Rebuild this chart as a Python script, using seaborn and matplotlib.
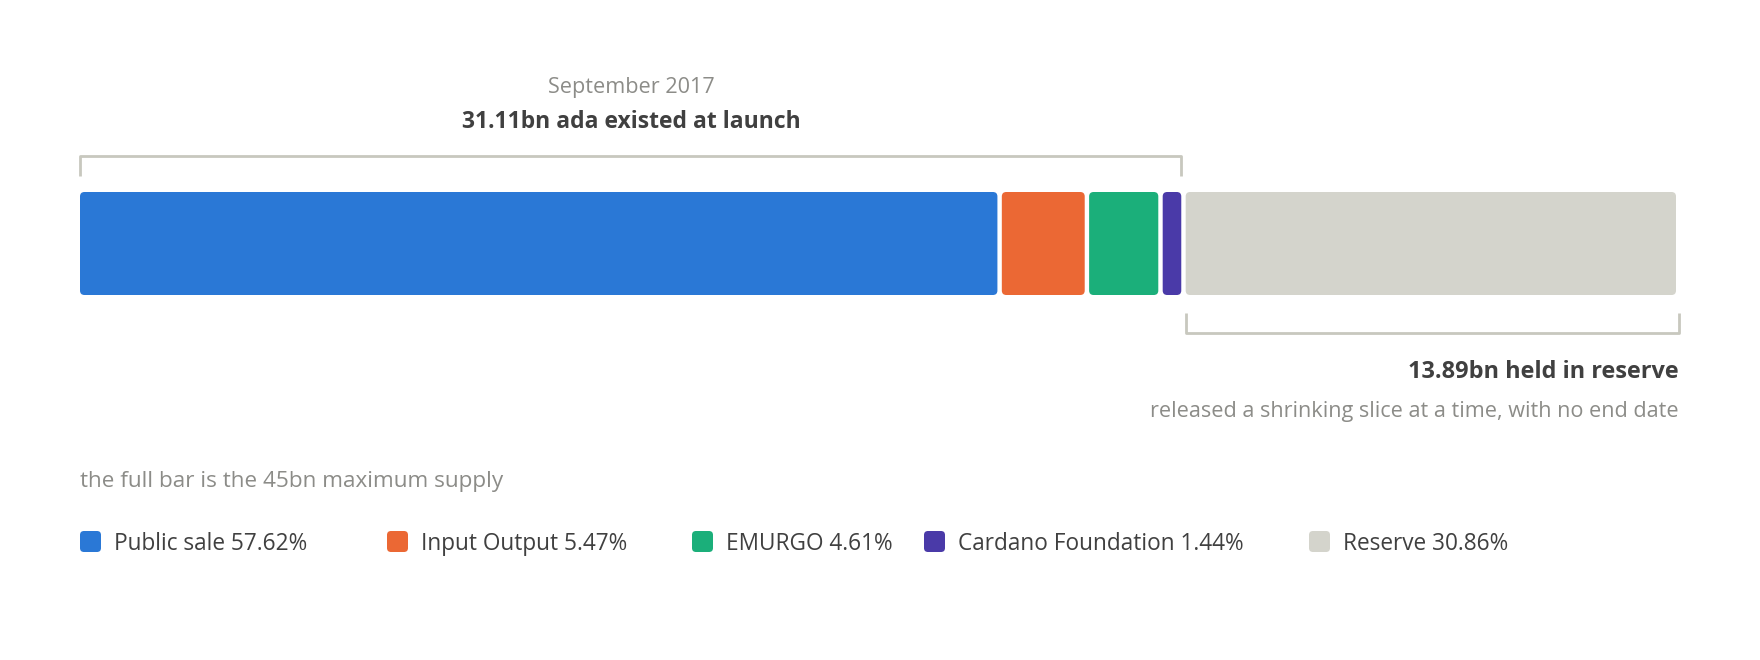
import matplotlib
matplotlib.use("Agg")
import matplotlib.pyplot as plt
from matplotlib.patches import FancyBboxPatch
import seaborn as sns

# ada supply split at launch, share of the 45bn maximum supply (%)
segments = ["Public sale", "Input Output", "EMURGO", "Cardano Foundation", "Reserve"]
shares = [57.62, 5.47, 4.61, 1.44, 30.86]
colors = ["#2a78d6", "#eb6834", "#1baf7a", "#4a3aa8", "#d4d4cc"]
launch_label = "September 2017"
launch_total = "31.11bn ada existed at launch"
reserve_total = "13.89bn held in reserve"
reserve_note = "released a shrinking slice at a time, with no end date"
footnote = "the full bar is the 45bn maximum supply"

sns.set_theme(style="white")
plt.rcParams["font.family"] = ["Open Sans", "DejaVu Sans"]

dark = "#404040"
grey = "#8c8c88"
line_col = "#c8c8be"

W, H = 1760, 660
fig = plt.figure(figsize=(W / 100, H / 100), dpi=100)
ax = fig.add_axes([0, 0, 1, 1])
ax.axis("off")

# x in percent of max supply, y in pixels (top = 0)
x0_px, x1_px = 80, 1676
k = (x1_px - x0_px) / 100.0
ax.set_xlim(-x0_px / k, (W - x0_px) / k)
ax.set_ylim(H, 0)


def px(x):
    return (x - x0_px) / k


bar_top, bar_h = 192, 103
gap = 2.2 / k
rad = 4.5
starts = [sum(shares[:i]) for i in range(len(shares))]
for i, (s, w, c) in enumerate(zip(starts, shares, colors)):
    left = s + (gap if i > 0 else 0)
    right = s + w - (gap if i < len(shares) - 1 else 0)
    ax.add_patch(FancyBboxPatch((left, bar_top), right - left, bar_h,
                                boxstyle=f"round,pad=0,rounding_size={rad / k}",
                                mutation_aspect=k, fc=c, ec="none"))

launch_end = sum(shares[:4])

# bracket over the launch supply
ax.plot([0, 0, launch_end - gap, launch_end - gap], [176, 156, 156, 176],
        color=line_col, lw=2, solid_capstyle="butt")
ax.text(launch_end / 2, 87, launch_label, ha="center", va="center",
        fontsize=15.6, color=grey)
ax.text(launch_end / 2, 122, launch_total, ha="center", va="center",
        fontsize=16.5, color=dark, fontweight="bold")

# bracket under the reserve
r_end = 100 + 3 / k
ax.plot([launch_end + gap, launch_end + gap, r_end, r_end], [313, 333, 333, 313],
        color=line_col, lw=2, solid_capstyle="butt")
ax.text(r_end, 372, reserve_total, ha="right", va="center",
        fontsize=16.9, color=dark, fontweight="bold")
ax.text(r_end, 411, reserve_note, ha="right", va="center",
        fontsize=15.6, color=grey)

ax.text(0, 482, footnote, ha="left", va="center", fontsize=16.2, color=grey)

# legend
legend_x = [80, 387, 692, 924, 1309]
for lx, name, v, c in zip(legend_x, segments, shares, colors):
    ax.add_patch(FancyBboxPatch((px(lx), 531), 21 / k, 21,
                                boxstyle=f"round,pad=0,rounding_size={4 / k}",
                                mutation_aspect=k, fc=c, ec="none"))
    ax.text(px(lx + 34), 544, f"{name} {v:.2f}%", ha="left", va="center",
            fontsize=16.3, color=dark)

fig.savefig("out.png", dpi=100, facecolor="white")
